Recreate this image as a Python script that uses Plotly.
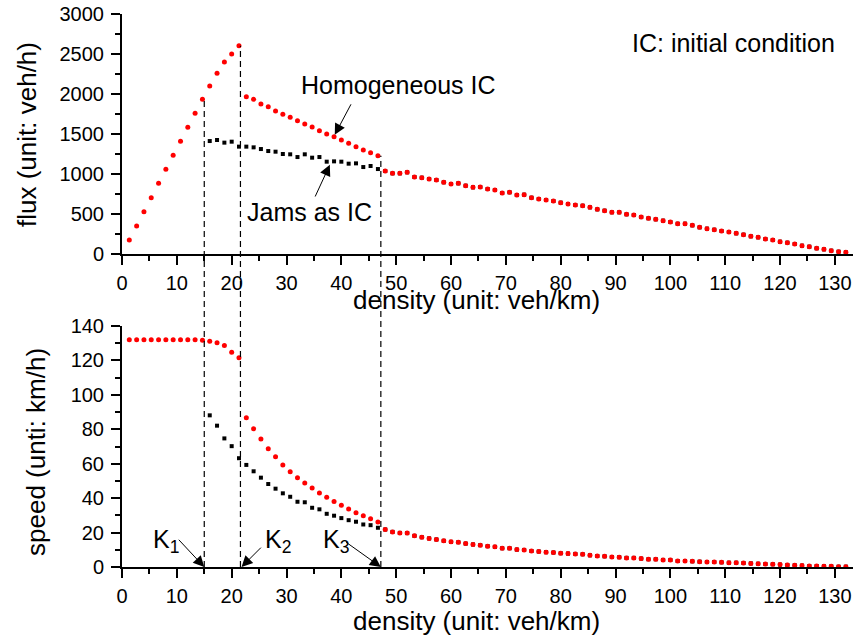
import plotly.graph_objects as go

# ---------------- data ----------------
density = [1.33, 2.67, 4.00, 5.33, 6.67, 8.00, 9.33, 10.67, 12.00, 13.33,
           14.67, 16.00, 17.33, 18.67, 20.00, 21.33, 22.67, 24.00, 25.33, 26.67,
           28.00, 29.33, 30.67, 32.00, 33.33, 34.67, 36.00, 37.33, 38.67, 40.00,
           41.33, 42.67, 44.00, 45.33, 46.67, 48.00, 49.33, 50.67, 52.00, 53.33,
           54.67, 56.00, 57.33, 58.67, 60.00, 61.33, 62.67, 64.00, 65.33, 66.67,
           68.00, 69.33, 70.67, 72.00, 73.33, 74.67, 76.00, 77.33, 78.67, 80.00,
           81.33, 82.67, 84.00, 85.33, 86.67, 88.00, 89.33, 90.67, 92.00, 93.33,
           94.67, 96.00, 97.33, 98.67, 100.00, 101.33, 102.67, 104.00, 105.33, 106.67,
           108.00, 109.33, 110.67, 112.00, 113.33, 114.67, 116.00, 117.33, 118.67, 120.00,
           121.33, 122.67, 124.00, 125.33, 126.67, 128.00, 129.33, 130.67, 132.00]

# Homogeneous IC (red)
flux_homog = [175, 350, 529, 704, 883, 1058, 1233, 1408, 1583, 1758,
              1933, 2100, 2258, 2400, 2500, 2604,
              1967, 1933, 1875, 1842, 1788, 1746, 1708, 1667, 1625, 1588,
              1542, 1500, 1467, 1425, 1383, 1342, 1300, 1267, 1229,
              1037, 1008, 1008, 1021, 962, 954, 937, 925, 896, 875,
              883, 854, 833, 837, 812, 800, 762, 771, 737, 742,
              704, 687, 675,
              662, 642, 625, 612, 604, 583, 558, 542, 521, 521,
              496, 487, 462, 446, 433, 417, 400, 379, 379, 358,
              333, 317, 304, 287, 275, 258, 242, 221, 208, 187,
              175, 154, 142, 125, 104, 92, 71, 58, 42, 29, 21]
speed_homog = [132.0, 132.0, 132.0, 132.0, 132.0, 132.0, 132.0, 132.0, 132.0, 132.0,
               131.7, 131.1, 130.3, 128.7, 124.8, 121.5,
               86.7, 80.3, 74.3, 68.7, 64.0, 59.3, 55.4, 51.9, 48.8, 45.9,
               43.0, 40.5, 38.1, 35.8, 33.7, 31.5, 29.8, 28.0, 26.1,
               21.8, 20.4, 19.8, 19.7, 18.1, 17.3, 16.6, 16.0, 15.2, 14.6,
               14.4, 13.6, 13.1, 12.7, 12.1, 11.7, 10.9, 10.9, 10.1, 9.9,
               9.3, 9.0, 8.6, 8.4, 8.0, 7.8, 7.6, 7.4, 6.8, 6.4, 6.2,
               5.8, 5.7, 5.3, 5.3, 4.9, 4.5, 4.5, 4.1, 4.1, 3.5,
               3.5, 3.3, 3.1, 2.9, 2.9, 2.7, 2.5, 2.5, 2.3, 2.1,
               1.9, 1.7, 1.6, 1.4, 1.2, 1.0, 0.8, 0.6, 0.6, 0.4,
               0.4, 0.2, 0.2]

# Jams as IC (black), branch between K1 and K3 (densities 16.00 ... 46.67)
jam_start = 11          # index of first density in the jam branch
jam_end = 35            # index after last density of the distinct branch
flux_jam_branch = [1412, 1425, 1392, 1404, 1342, 1342, 1333, 1312, 1287, 1279,
                   1250, 1246, 1212, 1246, 1204, 1212, 1154, 1158, 1154, 1129,
                   1133, 1087, 1100, 1062]
speed_jam_branch = [88.1, 82.1, 74.7, 70.2, 63.2, 59.3, 55.6, 51.9, 48.2, 45.5,
                    42.8, 40.8, 37.9, 37.6, 34.4, 33.5, 30.9, 29.8, 28.4, 27.2,
                    26.3, 24.7, 24.3, 22.8]

# critical densities K1, K2, K3 and the flux level where each dashed line starts
k_crit = [15.0, 21.6, 47.2]
k_names = ["K<sub>1</sub>", "K<sub>2</sub>", "K<sub>3</sub>"]
k_line_top_flux = [flux_homog[10], flux_homog[15], flux_homog[34]]

x_ticks = list(range(0, 131, 10))
flux_ticks = list(range(0, 3001, 500))
speed_ticks = list(range(0, 141, 20))

# ---------------- figure ----------------
density_jam = density[jam_start:]
flux_jam = flux_jam_branch + flux_homog[jam_end:]
speed_jam = speed_jam_branch + speed_homog[jam_end:]

FONT = "Liberation Sans, Arial, sans-serif"
W, H = 857, 640
ML, MR, MT, MB = 122, 4, 14, 73
PW, PH = W - ML - MR, H - MT - MB
top_dom = [(H - MB - 254) / PH, 1.0]
bot_dom = [0.0, (H - MB - 326) / PH]
XR = [0, 133.3]
FR = [0, 3000]
SR = [0, 140]


def px(xp):
    return (xp - ML) / PW


def py(yp):
    return (H - MB - yp) / PH


fig = go.Figure()
fig.add_trace(go.Scatter(x=density_jam, y=flux_jam, mode="markers",
                         marker=dict(symbol="square", size=4, color="black"),
                         xaxis="x", yaxis="y", name="Jams as IC"))
fig.add_trace(go.Scatter(x=density, y=flux_homog, mode="markers",
                         marker=dict(symbol="circle", size=5, color="#ff0000"),
                         xaxis="x", yaxis="y", name="Homogeneous IC"))
fig.add_trace(go.Scatter(x=density_jam, y=speed_jam, mode="markers",
                         marker=dict(symbol="square", size=4, color="black"),
                         xaxis="x2", yaxis="y2", name="Jams as IC"))
fig.add_trace(go.Scatter(x=density, y=speed_homog, mode="markers",
                         marker=dict(symbol="circle", size=5, color="#ff0000"),
                         xaxis="x2", yaxis="y2", name="Homogeneous IC"))

common = dict(showgrid=False, zeroline=False, showline=True, linecolor="black",
              linewidth=2, tickcolor="black", tickwidth=1.5,
              tickfont=dict(family=FONT, size=20, color="black"))


def main_ax(rng, vals, minor_d, **kw):
    d = dict(common)
    d.update(range=rng, tickmode="array", tickvals=vals, ticks="outside", ticklen=9,
             minor=dict(dtick=minor_d, tick0=0, ticks="outside", ticklen=5,
                        tickwidth=1.5, tickcolor="black", showgrid=False))
    d.update(kw)
    return d


def mirror_ax(rng, vals, minor_d, **kw):
    d = dict(common)
    d.update(range=rng, tickmode="array", tickvals=vals, ticks="inside", ticklen=9,
             showticklabels=False,
             minor=dict(dtick=minor_d, tick0=0, ticks="inside", ticklen=5,
                        tickwidth=1.5, tickcolor="black", showgrid=False))
    d.update(kw)
    return d


fig.update_layout(
    width=W, height=H, margin=dict(l=ML, r=MR, t=MT, b=MB),
    paper_bgcolor="white", plot_bgcolor="white", showlegend=False,
    font=dict(family=FONT, color="black"),
    xaxis=main_ax(XR, x_ticks, 5, domain=[0, 1], anchor="y", ticklabelstandoff=1),
    yaxis=main_ax(FR, flux_ticks, 250, domain=top_dom, anchor="x", ticklabelstandoff=3),
    xaxis2=main_ax(XR, x_ticks, 5, domain=[0, 1], anchor="y2", ticklabelstandoff=1),
    yaxis2=main_ax(SR, speed_ticks, 10, domain=bot_dom, anchor="x2", ticklabelstandoff=3),
    xaxis3=mirror_ax(XR, x_ticks, 5, overlaying="x", anchor="y", side="top"),
    yaxis3=mirror_ax(FR, flux_ticks, 250, overlaying="y", anchor="x", side="right"),
    xaxis4=mirror_ax(XR, x_ticks, 5, overlaying="x2", anchor="y2", side="top"),
    yaxis4=mirror_ax(SR, speed_ticks, 10, overlaying="y2", anchor="x2", side="right"),
)

# dashed vertical lines from the flux curve down to the speed axis
for k, ftop in zip(k_crit, k_line_top_flux):
    y_top = top_dom[0] + (ftop - FR[0]) / (FR[1] - FR[0]) * (top_dom[1] - top_dom[0])
    fig.add_shape(type="line", xref="x", yref="paper", x0=k, x1=k,
                  y0=bot_dom[0], y1=y_top,
                  line=dict(color="black", width=1.2, dash="6px,4px"))

TF = dict(family=FONT, size=25, color="black")
TT = dict(family=FONT, size=26, color="black")
ann = []
# axis titles
ann.append(dict(text="flux (unit: veh/h)", xref="paper", yref="paper",
                x=px(27), y=py(134), xanchor="center", yanchor="middle",
                textangle=-90, showarrow=False, font=TT))
ann.append(dict(text="speed (unti: km/h)", xref="paper", yref="paper",
                x=px(36), y=py(452), xanchor="center", yanchor="middle",
                textangle=-90, showarrow=False, font=TT))
ann.append(dict(text="density (unit: veh/km)", xref="paper", yref="paper",
                x=px(476), y=py(300), xanchor="center", yanchor="middle",
                showarrow=False, font=TT))
ann.append(dict(text="density (unit: veh/km)", xref="paper", yref="paper",
                x=px(476), y=py(621), xanchor="center", yanchor="middle",
                showarrow=False, font=TT))
# labels in the flux plot
ann.append(dict(text="IC: initial condition", xref="x", yref="y", x=130.3, y=2640,
                xanchor="right", yanchor="middle", showarrow=False, font=TF))
ann.append(dict(text="Homogeneous IC", xref="x", yref="y", x=50.5, y=2110,
                xanchor="center", yanchor="middle", showarrow=False, font=TF))
ann.append(dict(text="Jams as IC", xref="x", yref="y", x=34.1, y=525,
                xanchor="center", yanchor="middle", showarrow=False, font=TF))
arrow = dict(text="", showarrow=True, arrowhead=2, arrowsize=2.2, arrowwidth=1,
             arrowcolor="black")
ann.append(dict(arrow, xref="x", yref="y", axref="x", ayref="y",
                x=38.8, y=1490, ax=41.9, ay=1890))
ann.append(dict(arrow, xref="x", yref="y", axref="x", ayref="y",
                x=37.9, y=1115, ax=35.1, ay=700))
# K labels in the speed plot
k_label_pos = [(8.0, 15.0), (28.5, 15.0), (39.0, 15.0)]
k_arrow_tail = [(10.1, 16.7), (25.6, 12.1), (40.6, 15.0)]
k_arrow_head = [k_crit[0], k_crit[1] + 0.2, k_crit[2]]
for name, (lx, ly), (tx, ty), hx in zip(k_names, k_label_pos, k_arrow_tail, k_arrow_head):
    ann.append(dict(text=name, xref="x2", yref="y2", x=lx, y=ly, showarrow=False,
                    xanchor="center", yanchor="middle", font=TF))
    ann.append(dict(arrow, xref="x2", yref="y2", axref="x2", ayref="y2",
                    x=hx, y=0, ax=tx, ay=ty))
fig.update_layout(annotations=ann)

fig.write_html("out.html",
               config={"displayModeBar": False},
               post_script="document.body.style.margin='0px';"
                           "document.body.style.padding='0px';")
